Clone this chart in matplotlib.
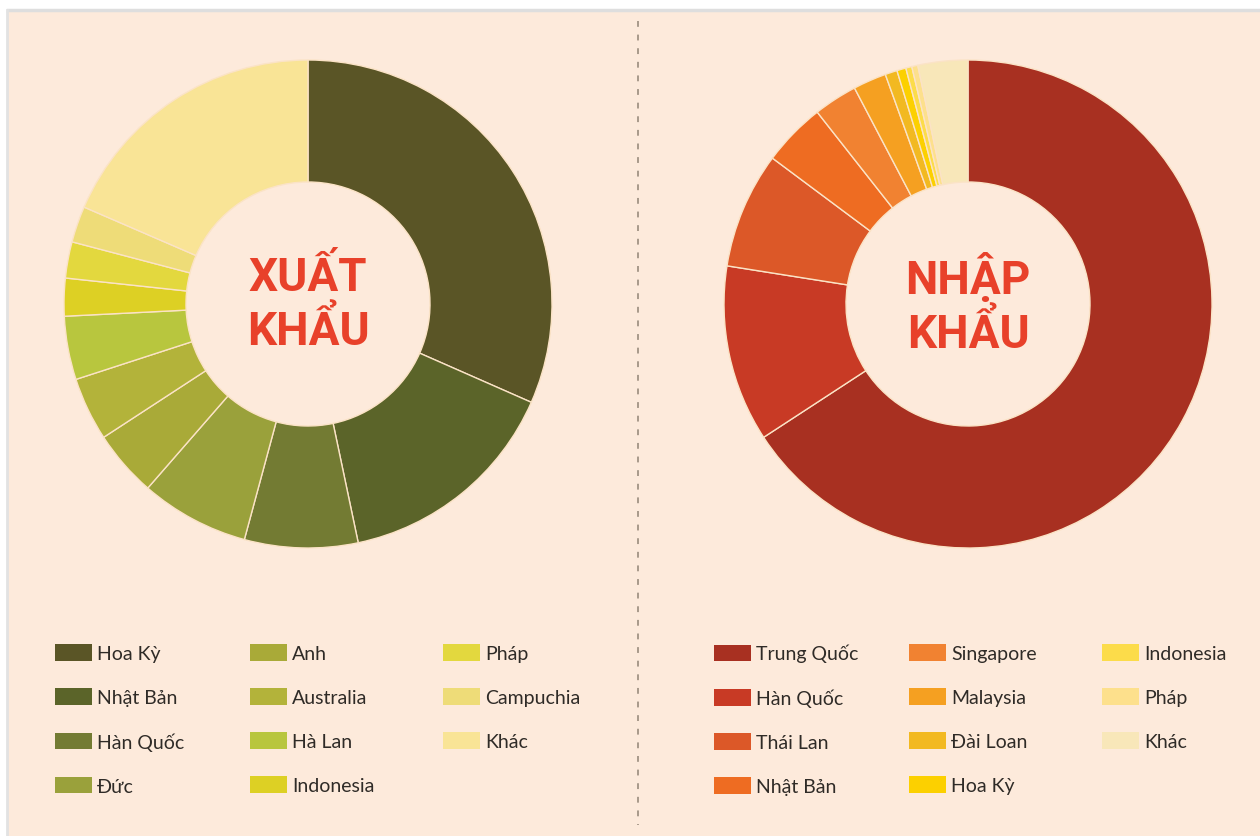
import matplotlib.pyplot as plt
from matplotlib.patches import Patch, Rectangle
from matplotlib.lines import Line2D

# export partners (share, %)
export_labels = ['Hoa Kỳ', 'Nhật Bản', 'Hàn Quốc', 'Đức', 'Anh', 'Australia',
                 'Hà Lan', 'Indonesia', 'Pháp', 'Campuchia', 'Khác']
export_values = [31.6, 15.1, 7.5, 7.2, 4.4, 4.2, 4.2, 2.5, 2.4, 2.4, 18.5]
export_colors = ['#5a5526', '#5b6429', '#737b33', '#9aa13b', '#a9aa38', '#b3b33a',
                 '#b8c63e', '#ddd024', '#e3d83e', '#eedc78', '#f9e496']

# import partners (share, %)
import_labels = ['Trung Quốc', 'Hàn Quốc', 'Thái Lan', 'Nhật Bản', 'Singapore', 'Malaysia',
                 'Đài Loan', 'Hoa Kỳ', 'Indonesia', 'Pháp', 'Khác']
import_values = [65.8, 11.7, 7.7, 4.2, 2.9, 2.2, 0.8, 0.6, 0.4, 0.4, 3.3]
import_colors = ['#a83021', '#c83a25', '#dc5828', '#ee6c22', '#f18231', '#f5a021',
                 '#f2b921', '#fcd000', '#fcdc4a', '#fde08c', '#f8e7b9']

W, H = 1260, 837
BG = '#fdeadb'
TEXT_RED = '#e8412a'
TEXT_DARK = '#2f2b27'
FONT = ['Lato', 'DejaVu Sans']


def px(x, y):
    # pixel position (from top-left) to figure fraction
    return x / W, 1 - y / H


def donut(fig, cx, cy, r, values, colors, title):
    x0, y0 = px(cx - r, cy + r)
    ax = fig.add_axes([x0, y0, 2 * r / W, 2 * r / H], zorder=2)
    ax.pie(values, colors=colors, startangle=90, counterclock=False,
           radius=1, wedgeprops=dict(width=0.5, edgecolor='#fbe3c6', linewidth=1))
    ax.set_xlim(-1, 1)
    ax.set_ylim(-1, 1)
    ax.set_aspect('equal')
    ax.axis('off')
    ax.text(0, 0, title, ha='center', va='center', multialignment='center',
            color=TEXT_RED, fontsize=33, fontweight='bold', family='Roboto',
            linespacing=1.22)
    return ax


def legend_block(fig, labels, colors, xs, y):
    # three columns, filled top to bottom
    chunks = [slice(0, 4), slice(4, 8), slice(8, 11)]
    for x, sl in zip(xs, chunks):
        handles = [Patch(facecolor=c, edgecolor='none') for c in colors[sl]]
        leg = fig.legend(handles, labels[sl], loc='upper left',
                         bbox_to_anchor=px(x, y), frameon=False,
                         borderpad=0, borderaxespad=0, handlelength=1.9,
                         handleheight=0.93, handletextpad=0.26,
                         labelspacing=1.34,
                         prop=dict(family=FONT, size=14))
        leg.set_zorder(3)
        for t in leg.get_texts():
            t.set_color(TEXT_DARK)


def main():
    fig = plt.figure(figsize=(W / 100, H / 100), dpi=100, facecolor='white')

    # panel background with a thin grey edge on top and left
    fig.add_artist(Rectangle(px(8, H), (W - 8) / W, (H - 12) / H,
                             transform=fig.transFigure, facecolor=BG,
                             edgecolor='none', zorder=-5))
    fig.add_artist(Line2D([8 / W, 1], [1 - 11 / H, 1 - 11 / H],
                          transform=fig.transFigure, color='#dedede', lw=2.5, zorder=-4))
    fig.add_artist(Line2D([7 / W, 7 / W], [0, 1 - 11 / H],
                          transform=fig.transFigure, color='#e2e2e2', lw=2, zorder=-4))

    # dashed divider
    fig.add_artist(Line2D([638 / W, 638 / W], [1 - 22 / H, 1 - 826 / H],
                          transform=fig.transFigure, color='#a8998a', lw=1.4,
                          linestyle=(0, (3, 4)), zorder=-3))

    donut(fig, 308, 305, 244, export_values, export_colors, 'XUẤT\nKHẨU')
    donut(fig, 968, 305, 244, import_values, import_colors, 'NHẬP\nKHẨU')

    legend_block(fig, export_labels, export_colors, [55, 250, 443], 645)
    legend_block(fig, import_labels, import_colors, [714, 909, 1102], 645)

    fig.savefig('out.png', dpi=100, facecolor=fig.get_facecolor())


if __name__ == '__main__':
    main()
